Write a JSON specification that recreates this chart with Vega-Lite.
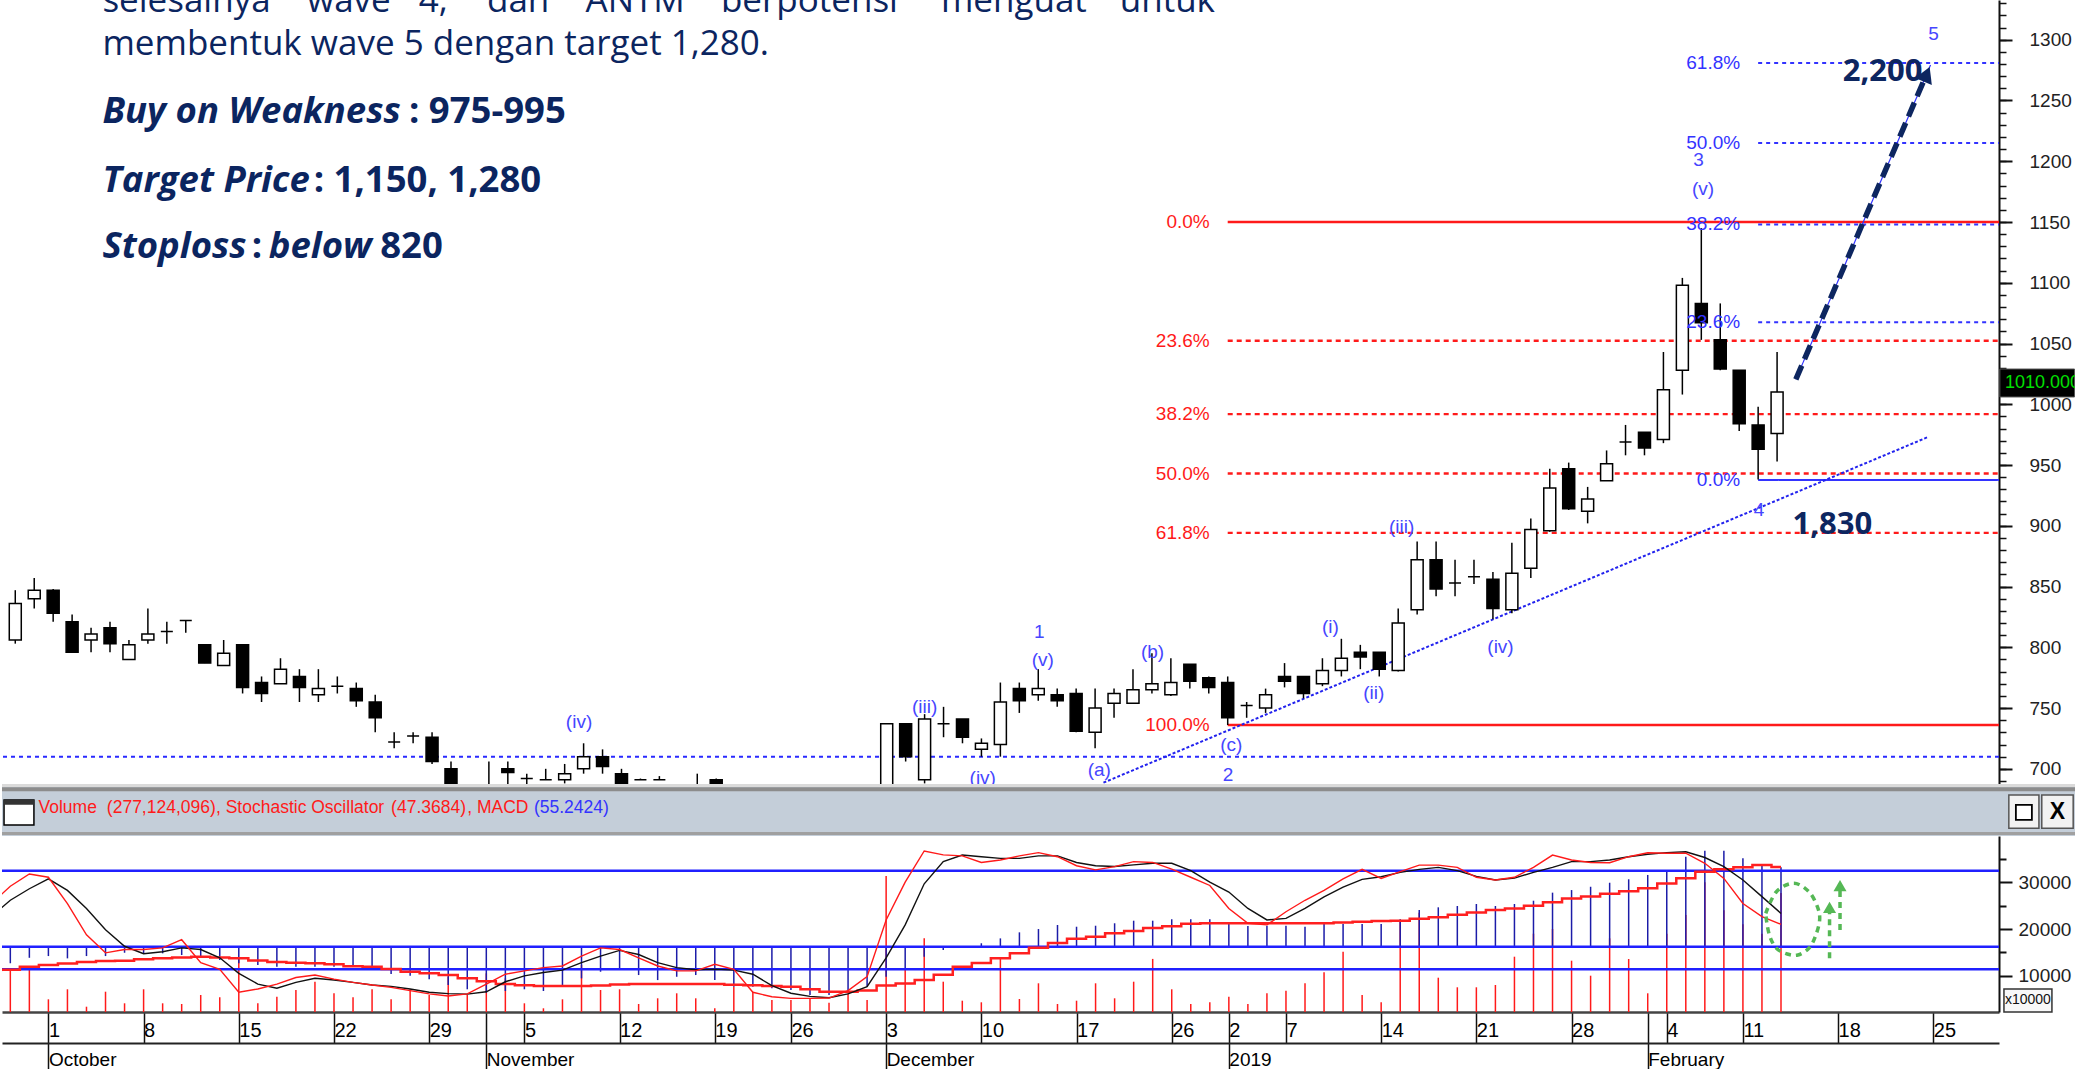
{
"$schema":"https://vega.github.io/schema/vega-lite/v6.json",
"padding":0,
"spacing":0,
"bounds":"flush",
"background":"#ffffff",
"config":{"view":{"stroke":null}},
"datasets":{
"candles":[
{"t":-2,"date":"2018-09-27","o":806,"h":847,"l":803,"c":836},
{"t":-1,"date":"2018-09-28","o":840,"h":857,"l":832,"c":847},
{"t":0,"date":"2018-10-01","o":847,"h":848,"l":821,"c":828},
{"t":1,"date":"2018-10-02","o":821,"h":827,"l":796,"c":796},
{"t":2,"date":"2018-10-03","o":806,"h":816,"l":796,"c":811},
{"t":3,"date":"2018-10-04","o":816,"h":821,"l":796,"c":803},
{"t":4,"date":"2018-10-05","o":790,"h":806,"l":790,"c":802},
{"t":5,"date":"2018-10-08","o":806,"h":832,"l":803,"c":811},
{"t":6,"date":"2018-10-09","o":813,"h":821,"l":803,"c":813},
{"t":7,"date":"2018-10-10","o":822,"h":822,"l":812,"c":822},
{"t":8,"date":"2018-10-11","o":802,"h":802,"l":787,"c":787},
{"t":9,"date":"2018-10-12","o":785,"h":806,"l":785,"c":795},
{"t":10,"date":"2018-10-15","o":802,"h":802,"l":762,"c":767},
{"t":11,"date":"2018-10-16","o":771,"h":776,"l":755,"c":762},
{"t":12,"date":"2018-10-17","o":770,"h":791,"l":770,"c":782},
{"t":13,"date":"2018-10-18","o":776,"h":782,"l":755,"c":767},
{"t":14,"date":"2018-10-19","o":761,"h":782,"l":755,"c":766},
{"t":15,"date":"2018-10-22","o":768,"h":776,"l":762,"c":768},
{"t":16,"date":"2018-10-23","o":766,"h":771,"l":751,"c":756},
{"t":17,"date":"2018-10-24","o":755,"h":761,"l":730,"c":742},
{"t":18,"date":"2018-10-25","o":722,"h":730,"l":717,"c":722},
{"t":19,"date":"2018-10-26","o":727,"h":730,"l":721,"c":727},
{"t":20,"date":"2018-10-29","o":726,"h":730,"l":704,"c":706},
{"t":21,"date":"2018-10-30","o":700,"h":706,"l":675,"c":680},
{"t":23,"date":"2018-11-01","o":680,"h":706,"l":672,"c":675},
{"t":24,"date":"2018-11-02","o":700,"h":706,"l":680,"c":697},
{"t":25,"date":"2018-11-05","o":692,"h":696,"l":685,"c":692},
{"t":26,"date":"2018-11-06","o":691,"h":700,"l":691,"c":691},
{"t":27,"date":"2018-11-07","o":691,"h":704,"l":688,"c":696},
{"t":28,"date":"2018-11-08","o":700,"h":721,"l":696,"c":710},
{"t":29,"date":"2018-11-09","o":710,"h":716,"l":696,"c":702},
{"t":30,"date":"2018-11-12","o":696,"h":700,"l":680,"c":684},
{"t":31,"date":"2018-11-13","o":691,"h":692,"l":691,"c":691},
{"t":32,"date":"2018-11-14","o":691,"h":694,"l":691,"c":691},
{"t":34,"date":"2018-11-16","o":680,"h":696,"l":672,"c":676},
{"t":35,"date":"2018-11-19","o":691,"h":692,"l":680,"c":684},
{"t":44,"date":"2018-12-03","o":680,"h":737,"l":675,"c":737},
{"t":45,"date":"2018-12-04","o":737,"h":737,"l":706,"c":710},
{"t":46,"date":"2018-12-05","o":691,"h":745,"l":688,"c":741},
{"t":47,"date":"2018-12-06","o":737,"h":751,"l":726,"c":737},
{"t":48,"date":"2018-12-07","o":741,"h":741,"l":721,"c":726},
{"t":49,"date":"2018-12-10","o":716,"h":725,"l":710,"c":721},
{"t":50,"date":"2018-12-11","o":720,"h":771,"l":710,"c":755},
{"t":51,"date":"2018-12-12","o":766,"h":771,"l":746,"c":756},
{"t":52,"date":"2018-12-13","o":761,"h":782,"l":756,"c":766},
{"t":53,"date":"2018-12-14","o":761,"h":766,"l":751,"c":756},
{"t":54,"date":"2018-12-17","o":762,"h":766,"l":730,"c":731},
{"t":55,"date":"2018-12-18","o":730,"h":766,"l":717,"c":750},
{"t":56,"date":"2018-12-19","o":754,"h":766,"l":742,"c":762},
{"t":57,"date":"2018-12-20","o":754,"h":782,"l":754,"c":765},
{"t":58,"date":"2018-12-21","o":765,"h":795,"l":762,"c":770},
{"t":59,"date":"2018-12-26","o":761,"h":791,"l":760,"c":771},
{"t":60,"date":"2018-12-27","o":786,"h":786,"l":766,"c":772},
{"t":61,"date":"2018-12-28","o":775,"h":776,"l":762,"c":767},
{"t":62,"date":"2019-01-02","o":771,"h":776,"l":736,"c":742},
{"t":63,"date":"2019-01-03","o":752,"h":755,"l":742,"c":752},
{"t":64,"date":"2019-01-04","o":750,"h":766,"l":746,"c":761},
{"t":65,"date":"2019-01-07","o":776,"h":787,"l":767,"c":772},
{"t":66,"date":"2019-01-08","o":776,"h":776,"l":758,"c":762},
{"t":67,"date":"2019-01-09","o":770,"h":791,"l":768,"c":781},
{"t":68,"date":"2019-01-10","o":781,"h":807,"l":776,"c":791},
{"t":69,"date":"2019-01-11","o":796,"h":802,"l":782,"c":792},
{"t":70,"date":"2019-01-14","o":796,"h":796,"l":776,"c":782},
{"t":71,"date":"2019-01-15","o":781,"h":832,"l":780,"c":820},
{"t":72,"date":"2019-01-16","o":831,"h":887,"l":827,"c":872},
{"t":73,"date":"2019-01-17","o":872,"h":887,"l":842,"c":848},
{"t":74,"date":"2019-01-18","o":853,"h":872,"l":842,"c":853},
{"t":75,"date":"2019-01-21","o":858,"h":872,"l":852,"c":858},
{"t":76,"date":"2019-01-22","o":856,"h":862,"l":823,"c":832},
{"t":77,"date":"2019-01-23","o":831,"h":886,"l":828,"c":861},
{"t":78,"date":"2019-01-24","o":865,"h":906,"l":857,"c":897},
{"t":79,"date":"2019-01-25","o":896,"h":947,"l":895,"c":931},
{"t":80,"date":"2019-01-28","o":947,"h":952,"l":913,"c":914},
{"t":81,"date":"2019-01-29","o":912,"h":932,"l":902,"c":922},
{"t":82,"date":"2019-01-30","o":937,"h":962,"l":937,"c":951},
{"t":83,"date":"2019-01-31","o":969,"h":983,"l":958,"c":969},
{"t":84,"date":"2019-02-01","o":977,"h":977,"l":958,"c":964},
{"t":85,"date":"2019-02-04","o":971,"h":1043,"l":968,"c":1012},
{"t":86,"date":"2019-02-06","o":1028,"h":1104,"l":1008,"c":1098},
{"t":87,"date":"2019-02-07","o":1083,"h":1145,"l":1053,"c":1067},
{"t":88,"date":"2019-02-08","o":1053,"h":1083,"l":1028,"c":1029},
{"t":89,"date":"2019-02-11","o":1028,"h":1028,"l":978,"c":984},
{"t":90,"date":"2019-02-12","o":983,"h":998,"l":938,"c":963},
{"t":91,"date":"2019-02-13","o":976,"h":1043,"l":953,"c":1010}
],
"ind":[
{"t":-3,"date":"2018-09-26","vol":null,"macd":-13,"sig":-17,"k":60,"d":52},
{"t":-2,"date":"2018-09-27","vol":112230000,"macd":-11.5,"sig":-16,"k":70.5,"d":62},
{"t":-1,"date":"2018-09-28","vol":119300000,"macd":-7.7,"sig":-14,"k":78,"d":69},
{"t":0,"date":"2018-10-01","vol":49500000,"macd":-6.5,"sig":-12.7,"k":76,"d":75},
{"t":1,"date":"2018-10-02","vol":70920000,"macd":-8.1,"sig":-11.7,"k":60,"d":68},
{"t":2,"date":"2018-10-03","vol":33660000,"macd":-6.5,"sig":-10.6,"k":41,"d":57},
{"t":3,"date":"2018-10-04","vol":65770000,"macd":-6.5,"sig":-10,"k":30,"d":44},
{"t":4,"date":"2018-10-05","vol":40940000,"macd":-4.2,"sig":-9.7,"k":32,"d":34},
{"t":5,"date":"2018-10-08","vol":70920000,"macd":-4.6,"sig":-8.8,"k":32,"d":29.5},
{"t":6,"date":"2018-10-09","vol":40940000,"macd":-4.6,"sig":-8,"k":33,"d":30.7},
{"t":7,"date":"2018-10-10","vol":39440000,"macd":-5.8,"sig":-7.5,"k":38,"d":33},
{"t":8,"date":"2018-10-11","vol":58710000,"macd":-7.7,"sig":-7,"k":24,"d":32},
{"t":9,"date":"2018-10-12","vol":53790000,"macd":-9.3,"sig":-7.5,"k":20,"d":27},
{"t":10,"date":"2018-10-15","vol":137280000,"macd":-11.5,"sig":-8.1,"k":6,"d":17.5},
{"t":11,"date":"2018-10-16","vol":40940000,"macd":-12.7,"sig":-9.5,"k":8,"d":11},
{"t":12,"date":"2018-10-17","vol":55070000,"macd":-13.9,"sig":-10.6,"k":11,"d":8.5},
{"t":13,"date":"2018-10-18","vol":69420000,"macd":-13.9,"sig":-11.2,"k":15,"d":12},
{"t":14,"date":"2018-10-19","vol":87180000,"macd":-13.9,"sig":-11.5,"k":16.5,"d":14.5},
{"t":15,"date":"2018-10-22","vol":62350000,"macd":-13.9,"sig":-12.2,"k":14,"d":13.5},
{"t":16,"date":"2018-10-23","vol":53790000,"macd":-13.9,"sig":-13.5,"k":12,"d":12},
{"t":17,"date":"2018-10-24","vol":70920000,"macd":-15,"sig":-14,"k":10.4,"d":10.4},
{"t":18,"date":"2018-10-25","vol":49500000,"macd":-19,"sig":-15.5,"k":9,"d":9.6},
{"t":19,"date":"2018-10-26","vol":70920000,"macd":-20.2,"sig":-17.4,"k":7,"d":8},
{"t":20,"date":"2018-10-29","vol":58710000,"macd":-22.7,"sig":-18.5,"k":5,"d":6},
{"t":21,"date":"2018-10-30","vol":97890000,"macd":-26.6,"sig":-19.7,"k":3.7,"d":5.2},
{"t":22,"date":"2018-10-31","vol":58710000,"macd":-29.6,"sig":-22,"k":5,"d":4.9},
{"t":23,"date":"2018-11-01","vol":105170000,"macd":-32,"sig":-24,"k":11,"d":6.3},
{"t":24,"date":"2018-11-02","vol":94460000,"macd":-30.8,"sig":-25.9,"k":17,"d":12.4},
{"t":25,"date":"2018-11-05","vol":40940000,"macd":-29.6,"sig":-26.8,"k":19,"d":16},
{"t":26,"date":"2018-11-06","vol":30240000,"macd":-30.8,"sig":-27.3,"k":21,"d":18},
{"t":27,"date":"2018-11-07","vol":49500000,"macd":-27.3,"sig":-27.3,"k":22,"d":19.5},
{"t":28,"date":"2018-11-08","vol":122940000,"macd":-22,"sig":-27.3,"k":28,"d":24},
{"t":29,"date":"2018-11-09","vol":69420000,"macd":-17.4,"sig":-27,"k":33,"d":28},
{"t":30,"date":"2018-11-12","vol":70920000,"macd":-16.2,"sig":-26.2,"k":32,"d":31.5},
{"t":31,"date":"2018-11-13","vol":39440000,"macd":-19.7,"sig":-25.9,"k":27,"d":29},
{"t":32,"date":"2018-11-14","vol":51640000,"macd":-23.2,"sig":-25.9,"k":22,"d":24},
{"t":33,"date":"2018-11-15","vol":62350000,"macd":-20.9,"sig":-25.9,"k":19,"d":21},
{"t":34,"date":"2018-11-16","vol":51640000,"macd":-19.7,"sig":-25.9,"k":19,"d":19.7},
{"t":35,"date":"2018-11-19","vol":30240000,"macd":-23.2,"sig":-26,"k":23,"d":20},
{"t":36,"date":"2018-11-21","vol":76480000,"macd":-27.8,"sig":-26.5,"k":20,"d":19.5},
{"t":37,"date":"2018-11-22","vol":65770000,"macd":-27.8,"sig":-26.8,"k":6,"d":17},
{"t":38,"date":"2018-11-23","vol":48000000,"macd":-28.9,"sig":-27.3,"k":3.3,"d":10},
{"t":39,"date":"2018-11-26","vol":48000000,"macd":-30.1,"sig":-27.8,"k":2.3,"d":5.4},
{"t":40,"date":"2018-11-27","vol":51640000,"macd":-33.6,"sig":-29.5,"k":2.3,"d":3.5},
{"t":41,"date":"2018-11-28","vol":42220000,"macd":-33.6,"sig":-31.3,"k":2.5,"d":2.7},
{"t":42,"date":"2018-11-29","vol":62350000,"macd":-32.4,"sig":-31.3,"k":7,"d":5},
{"t":43,"date":"2018-11-30","vol":48000000,"macd":-27.8,"sig":-30.5,"k":15.5,"d":9.4},
{"t":44,"date":"2018-12-03","vol":313490000,"macd":-20.9,"sig":-27,"k":50,"d":27},
{"t":45,"date":"2018-12-04","vol":112230000,"macd":-16.2,"sig":-25.5,"k":73,"d":47},
{"t":46,"date":"2018-12-05","vol":180100000,"macd":-7,"sig":-23.2,"k":92,"d":72},
{"t":47,"date":"2018-12-06","vol":87180000,"macd":-2.3,"sig":-19.5,"k":89.6,"d":85.5},
{"t":48,"date":"2018-12-07","vol":46500000,"macd":0.5,"sig":-14,"k":89,"d":89.5},
{"t":49,"date":"2018-12-10","vol":43080000,"macd":2.4,"sig":-11.3,"k":85,"d":88.5},
{"t":50,"date":"2018-12-11","vol":137280000,"macd":5.8,"sig":-8,"k":86.5,"d":87.5},
{"t":51,"date":"2018-12-12","vol":50150000,"macd":10,"sig":-4.5,"k":89,"d":87.5},
{"t":52,"date":"2018-12-13","vol":83760000,"macd":12.3,"sig":-0.8,"k":91,"d":89},
{"t":53,"date":"2018-12-14","vol":39440000,"macd":15.1,"sig":2.5,"k":88.5,"d":89},
{"t":54,"date":"2018-12-17","vol":46500000,"macd":13.9,"sig":5.5,"k":83,"d":85},
{"t":55,"date":"2018-12-18","vol":83760000,"macd":14.6,"sig":7,"k":80.5,"d":83},
{"t":56,"date":"2018-12-19","vol":51640000,"macd":16.3,"sig":9.3,"k":82.5,"d":82.5},
{"t":57,"date":"2018-12-20","vol":87180000,"macd":18.1,"sig":11,"k":85.5,"d":83.5},
{"t":58,"date":"2018-12-21","vol":136000000,"macd":18.1,"sig":13,"k":85,"d":84.5},
{"t":59,"date":"2018-12-26","vol":70920000,"macd":19.1,"sig":14.2,"k":81,"d":84.5},
{"t":60,"date":"2018-12-27","vol":39440000,"macd":19.1,"sig":16,"k":76,"d":80},
{"t":61,"date":"2018-12-28","vol":43080000,"macd":19.1,"sig":16.3,"k":71,"d":73},
{"t":62,"date":"2019-01-02","vol":55070000,"macd":15.8,"sig":16.3,"k":57,"d":67},
{"t":63,"date":"2019-01-03","vol":39440000,"macd":14.4,"sig":16.3,"k":48,"d":57},
{"t":64,"date":"2019-01-04","vol":62350000,"macd":14.6,"sig":16.3,"k":47,"d":50},
{"t":65,"date":"2019-01-07","vol":67920000,"macd":14.6,"sig":16.3,"k":55,"d":51},
{"t":66,"date":"2019-01-08","vol":83760000,"macd":13.9,"sig":16.3,"k":62,"d":57},
{"t":67,"date":"2019-01-09","vol":107310000,"macd":15.8,"sig":16.3,"k":68,"d":64},
{"t":68,"date":"2019-01-10","vol":151420000,"macd":15.8,"sig":16.8,"k":75,"d":70},
{"t":69,"date":"2019-01-11","vol":58710000,"macd":15.8,"sig":17.3,"k":80.8,"d":74.7},
{"t":70,"date":"2019-01-14","vol":43080000,"macd":15.8,"sig":17.8,"k":75.3,"d":76.3},
{"t":71,"date":"2019-01-15","vol":220000000,"macd":19.1,"sig":18,"k":79.4,"d":79},
{"t":72,"date":"2019-01-16","vol":235000000,"macd":25.5,"sig":19.5,"k":83.4,"d":80.8},
{"t":73,"date":"2019-01-17","vol":95750000,"macd":27.4,"sig":20.5,"k":83.4,"d":82},
{"t":74,"date":"2019-01-18","vol":75200000,"macd":28.3,"sig":22.2,"k":82,"d":80},
{"t":75,"date":"2019-01-21","vol":75200000,"macd":29.7,"sig":23.8,"k":76,"d":76.5},
{"t":76,"date":"2019-01-22","vol":80130000,"macd":28.3,"sig":25.5,"k":74.3,"d":74.3},
{"t":77,"date":"2019-01-23","vol":140710000,"macd":29.7,"sig":26.5,"k":76,"d":75.5},
{"t":78,"date":"2019-01-24","vol":190000000,"macd":32,"sig":28.5,"k":82,"d":79},
{"t":79,"date":"2019-01-25","vol":200000000,"macd":37.6,"sig":31,"k":89.5,"d":82},
{"t":80,"date":"2019-01-28","vol":132140000,"macd":39.4,"sig":33.5,"k":86.5,"d":85.5},
{"t":81,"date":"2019-01-29","vol":100030000,"macd":41.7,"sig":35,"k":85,"d":85.5},
{"t":82,"date":"2019-01-30","vol":180000000,"macd":44.5,"sig":36.8,"k":84.8,"d":86.5},
{"t":83,"date":"2019-01-31","vol":135780000,"macd":46.9,"sig":38.5,"k":88.5,"d":88.5},
{"t":84,"date":"2019-02-01","vol":62350000,"macd":49.9,"sig":40.6,"k":90.9,"d":90},
{"t":85,"date":"2019-02-04","vol":190000000,"macd":52.9,"sig":44,"k":90.6,"d":91},
{"t":86,"date":"2019-02-06","vol":230000000,"macd":62.6,"sig":47.6,"k":90.6,"d":91.5},
{"t":87,"date":"2019-02-07","vol":300000000,"macd":66.8,"sig":52.2,"k":84.5,"d":88},
{"t":88,"date":"2019-02-08","vol":240000000,"macd":66.8,"sig":53.8,"k":75.3,"d":82.4},
{"t":89,"date":"2019-02-11","vol":210000000,"macd":61.5,"sig":55.2,"k":60,"d":74.3},
{"t":90,"date":"2019-02-12","vol":190000000,"macd":56.8,"sig":56.8,"k":52,"d":64.2},
{"t":91,"date":"2019-02-13","vol":277124096,"macd":55.2424,"sig":55.5,"k":47.3684,"d":54}
],
"fib":[
{"kind":"rs","lbl":"0.0%","p":1150,"t0":62},
{"kind":"rd","lbl":"23.6%","p":1052.3,"t0":62},
{"kind":"rd","lbl":"38.2%","p":991.9,"t0":62},
{"kind":"rd","lbl":"50.0%","p":943,"t0":62},
{"kind":"rd","lbl":"61.8%","p":894.1,"t0":62},
{"kind":"rs","lbl":"100.0%","p":736,"t0":62},
{"kind":"bs","lbl":"0.0%","p":937.7,"t0":90},
{"kind":"bd","lbl":"23.6%","p":1067.5,"t0":90},
{"kind":"bd","lbl":"38.2%","p":1148,"t0":90},
{"kind":"bd","lbl":"50.0%","p":1215,"t0":90},
{"kind":"bd","lbl":"61.8%","p":1280.8,"t0":90}
],
"waves":[
{"t":27.76,"p":738.7,"s":"(iv)"},{"t":46.0,"p":751.1,"s":"(iii)"},{"t":49.07,"p":692.4,"s":"(iv)"},
{"t":52.05,"p":812.8,"s":"1"},{"t":52.24,"p":789.5,"s":"(v)"},{"t":55.22,"p":699,"s":"(a)"},
{"t":58.03,"p":796.3,"s":"(b)"},{"t":62.19,"p":719.6,"s":"(c)"},{"t":62.02,"p":694.9,"s":"2"},
{"t":67.42,"p":816.9,"s":"(i)"},{"t":69.71,"p":762.1,"s":"(ii)"},{"t":71.18,"p":899.2,"s":"(iii)"},
{"t":76.4,"p":800.5,"s":"(iv)"},{"t":86.85,"p":1201,"s":"3"},{"t":87.09,"p":1176.9,"s":"(v)"},
{"t":90.05,"p":913,"s":"4"},{"t":99.26,"p":1304.7,"s":"5"}
],
"notes":[
{"t":2.6,"p":1323.2,"s":"selesainya","sty":"r"},
{"t":13.4,"p":1323.2,"s":"wave","sty":"r"},
{"t":19.3,"p":1323.2,"s":"4,","sty":"r"},
{"t":22.9,"p":1323.2,"s":"dan","sty":"r"},
{"t":28.1,"p":1323.2,"s":"ANTM","sty":"r"},
{"t":35.25,"p":1323.2,"s":"berpotensi","sty":"r"},
{"t":46.86,"p":1323.2,"s":"menguat","sty":"r"},
{"t":56.3,"p":1323.2,"s":"untuk","sty":"r"},
{"t":2.6,"p":1287.4,"s":"membentuk wave 5 dengan target 1,280.","sty":"r"},
{"t":2.6,"p":1231.2,"s":"Buy on Weakness","sty":"bi"},
{"t":18.78,"p":1231.2,"s":": 975-995","sty":"b"},
{"t":2.6,"p":1174.9,"s":"Target Price","sty":"bi"},
{"t":13.75,"p":1174.9,"s":": 1,150, 1,280","sty":"b"},
{"t":2.6,"p":1120.1,"s":"Stoploss","sty":"bi"},
{"t":10.48,"p":1120.1,"s":":","sty":"b"},
{"t":11.38,"p":1120.1,"s":"below","sty":"bi"},
{"t":17.26,"p":1120.1,"s":"820","sty":"b"}
],
"hdr":[
{"t":-0.52,"s":"Volume","k":"k"},
{"t":3.07,"s":"(277,124,096)","k":"r"},
{"t":8.8,"s":", Stochastic Oscillator","k":"k"},
{"t":18.0,"s":"(47.3684)","k":"r"},
{"t":22.0,"s":", MACD","k":"k"},
{"t":25.5,"s":"(55.2424)","k":"b"}
],
"ring":[
{"n":0,"t":90.2,"vol":233600000},{"n":1,"t":90.76,"vol":279900000},{"n":2,"t":91.67,"vol":297900000},
{"n":3,"t":92.46,"vol":279900000},{"n":4,"t":92.91,"vol":247800000},{"n":5,"t":93.03,"vol":219300000},
{"n":6,"t":92.8,"vol":183500000},{"n":7,"t":92.46,"vol":158700000},{"n":8,"t":91.89,"vol":144400000},
{"n":9,"t":91.33,"vol":146500000},{"n":10,"t":90.76,"vol":158700000},{"n":11,"t":90.42,"vol":183500000},
{"n":12,"t":90.26,"vol":212200000},{"n":13,"t":90.2,"vol":233600000}
]
},
"vconcat":[
{
"width":1997,"height":784,
"resolve":{"axis":{"y":"independent"}},
"layer":[
{"data":{"values":[{}]},
 "mark":{"type":"rule","color":"#2a2aff","strokeWidth":2,"strokeDash":[4,4]},
 "encoding":{"y":{"datum":710,"type":"quantitative","scale":{"domain":[687.5,1332.7],"nice":false,"zero":false},
  "axis":{"orient":"right","values":[690,700,710,720,730,740,750,760,770,780,790,800,810,820,830,840,850,860,870,880,890,900,910,920,930,940,950,960,970,980,990,1000,1010,1020,1030,1040,1050,1060,1070,1080,1090,1100,1110,1120,1130,1140,1150,1160,1170,1180,1190,1200,1210,1220,1230,1240,1250,1260,1270,1280,1290,1300,1310,1320,1330],"tickSize":7,"tickWidth":1.5,"tickColor":"#111","domain":false,"labels":false,"grid":false,"title":null}}}},
{"data":{"name":"fib"},
 "mark":{"type":"rule","clip":true},
 "encoding":{
  "x":{"field":"t0","type":"quantitative","scale":{"domain":[-2.437,102.45],"nice":false,"zero":false},"axis":null},
  "x2":{"datum":103},
  "y":{"field":"p","type":"quantitative","scale":{"domain":[687.5,1332.7],"nice":false,"zero":false},
   "axis":{"orient":"right","values":[700,750,800,850,900,950,1000,1050,1100,1150,1200,1250,1300],"format":"d","tickSize":13,"tickWidth":2,"tickColor":"#111","domain":true,"domainColor":"#111","domainWidth":2,"labelFont":"Liberation Sans","labelFontSize":19,"labelColor":"#222","labelPadding":17,"grid":false,"title":null,"labelOverlap":false,"labelFlush":false,"labelBound":false}},
  "color":{"field":"kind","type":"nominal","scale":{"domain":["rs","rd","bs","bd"],"range":["#ff1a1a","#ff1a1a","#3333ff","#3333ff"]},"legend":null},
  "strokeDash":{"field":"kind","type":"nominal","scale":{"domain":["rs","rd","bs","bd"],"range":[[1,0],[5,4],[1,0],[4,4]]},"legend":null},
  "strokeWidth":{"field":"kind","type":"nominal","scale":{"domain":["rs","rd","bs","bd"],"range":[2.5,2,2.5,2]},"legend":null}
 }},
{"data":{"values":[{"t":55.44,"p":688.6},{"t":98.93,"p":972.8}]},
 "mark":{"type":"line","color":"#2222ee","strokeWidth":2,"strokeDash":[3,2],"clip":true},
 "encoding":{"x":{"field":"t","type":"quantitative","scale":{"domain":[-2.437,102.45],"nice":false,"zero":false},"axis":null},
  "y":{"field":"p","type":"quantitative","scale":{"domain":[687.5,1332.7],"nice":false,"zero":false},"axis":null}}},
{"data":{"values":[{"t":91.99,"p":1020.5},{"t":99.1,"p":1279.2}]},
 "mark":{"type":"line","color":"#3030ff","strokeWidth":1.2,"clip":true},
 "encoding":{"x":{"field":"t","type":"quantitative","scale":{"domain":[-2.437,102.45],"nice":false,"zero":false},"axis":null},
  "y":{"field":"p","type":"quantitative","scale":{"domain":[687.5,1332.7],"nice":false,"zero":false},"axis":null}}},
{"data":{"name":"candles"},
 "mark":{"type":"rule","color":"#000","strokeWidth":1.5,"clip":true},
 "encoding":{"x":{"field":"t","type":"quantitative","scale":{"domain":[-2.437,102.45],"nice":false,"zero":false},"axis":null},
  "y":{"field":"l","type":"quantitative","scale":{"domain":[687.5,1332.7],"nice":false,"zero":false},"axis":null},
  "y2":{"field":"h"}}},
{"data":{"name":"candles"},
 "mark":{"type":"bar","size":12,"stroke":"#000","strokeWidth":1.5,"clip":true,"orient":"vertical"},
 "encoding":{"x":{"field":"t","type":"quantitative","scale":{"domain":[-2.437,102.45],"nice":false,"zero":false},"axis":null},
  "y":{"field":"o","type":"quantitative","scale":{"domain":[687.5,1332.7],"nice":false,"zero":false},"axis":null},
  "y2":{"field":"c"},
  "fill":{"condition":{"test":"datum.c < datum.o","value":"#000"},"value":"#fff"}}},
{"data":{"name":"fib"},
 "mark":{"type":"text","font":"Liberation Sans","fontSize":19,"align":"right","baseline":"middle","dx":-18},
 "encoding":{"x":{"field":"t0","type":"quantitative","scale":{"domain":[-2.437,102.45],"nice":false,"zero":false},"axis":null},
  "y":{"field":"p","type":"quantitative","scale":{"domain":[687.5,1332.7],"nice":false,"zero":false},"axis":null},
  "text":{"field":"lbl"},
  "color":{"field":"kind","type":"nominal","scale":{"domain":["rs","rd","bs","bd"],"range":["#ff1a1a","#ff1a1a","#3333ff","#3333ff"]},"legend":null}}},
{"data":{"name":"waves"},
 "mark":{"type":"text","font":"Liberation Sans","fontSize":19,"color":"#4646ff","align":"center","baseline":"middle","clip":true},
 "encoding":{"x":{"field":"t","type":"quantitative","scale":{"domain":[-2.437,102.45],"nice":false,"zero":false},"axis":null},
  "y":{"field":"p","type":"quantitative","scale":{"domain":[687.5,1332.7],"nice":false,"zero":false},"axis":null},
  "text":{"field":"s"}}},
{"data":{"values":[{"t":96.57,"p":1273.7,"s":"2,200"},{"t":93.92,"p":900.6,"s":"1,830"}]},
 "mark":{"type":"text","font":"Open Sans","fontWeight":"bold","fontSize":31,"color":"#0d2660","align":"center","baseline":"middle"},
 "encoding":{"x":{"field":"t","type":"quantitative","scale":{"domain":[-2.437,102.45],"nice":false,"zero":false},"axis":null},
  "y":{"field":"p","type":"quantitative","scale":{"domain":[687.5,1332.7],"nice":false,"zero":false},"axis":null},
  "text":{"field":"s"}}},
{"data":{"values":[{"t":91.99,"p":1020.5},{"t":98.89,"p":1271.6}]},
 "mark":{"type":"line","color":"#0d2660","strokeWidth":5.5,"strokeDash":[15,7]},
 "encoding":{"x":{"field":"t","type":"quantitative","scale":{"domain":[-2.437,102.45],"nice":false,"zero":false},"axis":null},
  "y":{"field":"p","type":"quantitative","scale":{"domain":[687.5,1332.7],"nice":false,"zero":false},"axis":null}}},
{"data":{"values":[{"t":98.89,"p":1271.6}]},
 "mark":{"type":"point","shape":"triangle-up","filled":true,"color":"#0d2660","size":330,"angle":23,"opacity":1},
 "encoding":{"x":{"field":"t","type":"quantitative","scale":{"domain":[-2.437,102.45],"nice":false,"zero":false},"axis":null},
  "y":{"field":"p","type":"quantitative","scale":{"domain":[687.5,1332.7],"nice":false,"zero":false},"axis":null}}},
{"data":{"name":"notes"},"transform":[{"filter":"datum.sty == 'r'"}],
 "mark":{"type":"text","font":"Open Sans","fontSize":35,"color":"#0b2560","align":"left","baseline":"alphabetic","clip":true},
 "encoding":{"x":{"field":"t","type":"quantitative","scale":{"domain":[-2.437,102.45],"nice":false,"zero":false},"axis":null},
  "y":{"field":"p","type":"quantitative","scale":{"domain":[687.5,1332.7],"nice":false,"zero":false},"axis":null},
  "text":{"field":"s"}}},
{"data":{"name":"notes"},"transform":[{"filter":"datum.sty == 'bi'"}],
 "mark":{"type":"text","font":"Open Sans","fontWeight":"bold","fontStyle":"italic","fontSize":36.5,"color":"#0b2560","align":"left","baseline":"alphabetic"},
 "encoding":{"x":{"field":"t","type":"quantitative","scale":{"domain":[-2.437,102.45],"nice":false,"zero":false},"axis":null},
  "y":{"field":"p","type":"quantitative","scale":{"domain":[687.5,1332.7],"nice":false,"zero":false},"axis":null},
  "text":{"field":"s"}}},
{"data":{"name":"notes"},"transform":[{"filter":"datum.sty == 'b'"}],
 "mark":{"type":"text","font":"Open Sans","fontWeight":"bold","fontSize":36.5,"color":"#0b2560","align":"left","baseline":"alphabetic"},
 "encoding":{"x":{"field":"t","type":"quantitative","scale":{"domain":[-2.437,102.45],"nice":false,"zero":false},"axis":null},
  "y":{"field":"p","type":"quantitative","scale":{"domain":[687.5,1332.7],"nice":false,"zero":false},"axis":null},
  "text":{"field":"s"}}},
{"data":{"values":[{}]},
 "mark":{"type":"rect","fill":"#000","stroke":"#555","strokeWidth":1},
 "encoding":{"x":{"datum":102.76,"type":"quantitative","scale":{"domain":[-2.437,102.45],"nice":false,"zero":false},"axis":null},
  "x2":{"datum":106.7},
  "y":{"datum":1006,"type":"quantitative","scale":{"domain":[687.5,1332.7],"nice":false,"zero":false},"axis":null},
  "y2":{"datum":1029}}},
{"data":{"values":[{}]},
 "mark":{"type":"text","text":"1010.000","font":"Liberation Sans","fontSize":18,"color":"#00e000","align":"left","baseline":"middle"},
 "encoding":{"x":{"datum":103.03,"type":"quantitative","scale":{"domain":[-2.437,102.45],"nice":false,"zero":false},"axis":null},
  "y":{"datum":1017.5,"type":"quantitative","scale":{"domain":[687.5,1332.7],"nice":false,"zero":false},"axis":null}}}
]
},
{
"width":2075,"height":52,
"view":{"fill":"#c4ced9","stroke":null},
"layer":[
{"data":{"values":[{}]},"mark":{"type":"rule","color":"#dadada","strokeWidth":3},
 "encoding":{"y":{"datum":0.971,"type":"quantitative","scale":{"domain":[0,1],"nice":false,"zero":false},"axis":null}}},
{"data":{"values":[{}]},"mark":{"type":"rule","color":"#8c8c8c","strokeWidth":4},
 "encoding":{"y":{"datum":0.9,"type":"quantitative","scale":{"domain":[0,1],"nice":false,"zero":false},"axis":null}}},
{"data":{"values":[{}]},"mark":{"type":"rule","color":"#a0a0a0","strokeWidth":3},
 "encoding":{"y":{"datum":0.05,"type":"quantitative","scale":{"domain":[0,1],"nice":false,"zero":false},"axis":null}}},
{"data":{"values":[{}]},"mark":{"type":"rect","fill":"#ffffff","stroke":"#000","strokeWidth":1.5},
 "encoding":{"x":{"datum":-2.33,"type":"quantitative","scale":{"domain":[-2.437,106.55],"nice":false,"zero":false},"axis":null},"x2":{"datum":-0.76},
  "y":{"datum":0.21,"type":"quantitative","scale":{"domain":[0,1],"nice":false,"zero":false},"axis":null},"y2":{"datum":0.69}}},
{"data":{"values":[{}]},"mark":{"type":"rect","fill":"#333"},
 "encoding":{"x":{"datum":-2.33,"type":"quantitative","scale":{"domain":[-2.437,106.55],"nice":false,"zero":false},"axis":null},"x2":{"datum":-0.76},
  "y":{"datum":0.6,"type":"quantitative","scale":{"domain":[0,1],"nice":false,"zero":false},"axis":null},"y2":{"datum":0.69}}},
{"data":{"name":"hdr"},
 "mark":{"type":"text","font":"Liberation Sans","fontSize":17.5,"align":"left","baseline":"middle"},
 "encoding":{"x":{"field":"t","type":"quantitative","scale":{"domain":[-2.437,106.55],"nice":false,"zero":false},"axis":null},
  "y":{"datum":0.54,"type":"quantitative","scale":{"domain":[0,1],"nice":false,"zero":false},"axis":null},
  "text":{"field":"s"},
  "color":{"field":"k","type":"nominal","scale":{"domain":["k","r","b"],"range":["#000000","#ee0000","#2a2aa8"]},"legend":null}}},
{"data":{"values":[{}]},"mark":{"type":"rect","fill":"#f2f2f2","stroke":"#555","strokeWidth":1.5},
 "encoding":{"x":{"datum":102.97,"type":"quantitative","scale":{"domain":[-2.437,106.55],"nice":false,"zero":false},"axis":null},"x2":{"datum":104.55},
  "y":{"datum":0.15,"type":"quantitative","scale":{"domain":[0,1],"nice":false,"zero":false},"axis":null},"y2":{"datum":0.79}}},
{"data":{"values":[{}]},"mark":{"type":"rect","fill":"#f2f2f2","stroke":"#555","strokeWidth":1.5},
 "encoding":{"x":{"datum":104.7,"type":"quantitative","scale":{"domain":[-2.437,106.55],"nice":false,"zero":false},"axis":null},"x2":{"datum":106.35},
  "y":{"datum":0.15,"type":"quantitative","scale":{"domain":[0,1],"nice":false,"zero":false},"axis":null},"y2":{"datum":0.79}}},
{"data":{"values":[{}]},"mark":{"type":"rect","fill":"#ffffff","stroke":"#000","strokeWidth":1.8},
 "encoding":{"x":{"datum":103.34,"type":"quantitative","scale":{"domain":[-2.437,106.55],"nice":false,"zero":false},"axis":null},"x2":{"datum":104.18},
  "y":{"datum":0.31,"type":"quantitative","scale":{"domain":[0,1],"nice":false,"zero":false},"axis":null},"y2":{"datum":0.6}}},
{"data":{"values":[{}]},"mark":{"type":"text","text":"X","font":"Liberation Sans","fontWeight":"bold","fontSize":23,"color":"#000","align":"center","baseline":"middle"},
 "encoding":{"x":{"datum":105.52,"type":"quantitative","scale":{"domain":[-2.437,106.55],"nice":false,"zero":false},"axis":null},
  "y":{"datum":0.46,"type":"quantitative","scale":{"domain":[0,1],"nice":false,"zero":false},"axis":null}}}
]
},
{
"width":1997,"height":176,
"resolve":{"scale":{"y":"independent"},"axis":{"x":"independent","y":"independent"}},
"layer":[
{"data":{"name":"ind"},
 "mark":{"type":"rule","color":"#ff1a1a","strokeWidth":1.5,"clip":true},
 "encoding":{
  "x":{"field":"t","type":"quantitative","scale":{"domain":[-2.437,102.45],"nice":false,"zero":false},
   "axis":{"orient":"bottom","values":[0,5,10,15,20,23,25,30,35,39,44,49,54,59,62,65,70,75,80,84,85,89,94,99],
    "labelExpr":"['1','8','15','22','29','','5','12','19','26','3','10','17','26','2','7','14','21','28','','4','11','18','25'][indexof([0,5,10,15,20,23,25,30,35,39,44,49,54,59,62,65,70,75,80,84,85,89,94,99], datum.value)]",
    "tickSize":31,"tickWidth":1.5,"tickColor":"#111","domain":true,"domainColor":"#444","domainWidth":2.5,
    "labelAlign":"left","labelBaseline":"top","labelPadding":-23,"labelDx":3,
    "labelFont":"Liberation Sans","labelFontSize":20,"labelColor":"#000",
    "labelOverlap":false,"labelBound":false,"labelFlush":false,"grid":false,"title":null}},
  "y":{"field":"vol","type":"quantitative","scale":{"domain":[22310000,399130000],"nice":false,"zero":false},
   "axis":{"orient":"right","values":[100000000,200000000,300000000],"labelExpr":"format(datum.value/10000,'d')","tickSize":13,"tickWidth":2,"tickColor":"#111","domain":true,"domainColor":"#111","domainWidth":2,"labelFont":"Liberation Sans","labelFontSize":19,"labelColor":"#222","labelPadding":6,"grid":false,"title":null}},
  "y2":{"datum":0}
 }},
{"data":{"name":"ind"},
 "mark":{"type":"rule","color":"#1c1ca8","strokeWidth":1.5,"clip":true},
 "encoding":{
  "x":{"field":"t","type":"quantitative","scale":{"domain":[-2.437,102.45],"nice":false,"zero":false},
   "axis":{"orient":"bottom","offset":31,"values":[0,23,44,62,84],
    "labelExpr":"['October','November','December','2019','February'][indexof([0,23,44,62,84], datum.value)]",
    "tickSize":26,"tickWidth":1.5,"tickColor":"#111","domain":true,"domainColor":"#222","domainWidth":2,
    "labelAlign":"left","labelBaseline":"top","labelPadding":-19,"labelDx":3,
    "labelFont":"Liberation Sans","labelFontSize":19,"labelColor":"#000",
    "labelOverlap":false,"labelBound":false,"labelFlush":false,"grid":false,"title":null}},
  "y":{"field":"macd","type":"quantitative","scale":{"domain":[-45.4,77.0],"nice":false,"zero":false},"axis":null},
  "y2":{"datum":0}
 }},
{"data":{"values":[{"lv":80},{"lv":20}]},
 "mark":{"type":"rule","color":"#2020ff","strokeWidth":2.5},
 "encoding":{"y":{"field":"lv","type":"quantitative","scale":{"domain":[-6.0,101.1],"nice":false,"zero":false},"axis":null}}},
{"data":{"values":[{"lv":0}]},
 "mark":{"type":"rule","color":"#2020ff","strokeWidth":2.5},
 "encoding":{"y":{"field":"lv","type":"quantitative","scale":{"domain":[-45.4,77.0],"nice":false,"zero":false},"axis":null}}},
{"data":{"name":"ind"},
 "mark":{"type":"line","color":"#ff2020","strokeWidth":2.5,"interpolate":"step","clip":true},
 "encoding":{"x":{"field":"t","type":"quantitative","scale":{"domain":[-2.437,102.45],"nice":false,"zero":false},"axis":null},
  "y":{"field":"sig","type":"quantitative","scale":{"domain":[-45.4,77.0],"nice":false,"zero":false},"axis":null}}},
{"data":{"name":"ind"},
 "mark":{"type":"line","color":"#111111","strokeWidth":1.4,"clip":true},
 "encoding":{"x":{"field":"t","type":"quantitative","scale":{"domain":[-2.437,102.45],"nice":false,"zero":false},"axis":null},
  "y":{"field":"d","type":"quantitative","scale":{"domain":[-6.0,101.1],"nice":false,"zero":false},"axis":null}}},
{"data":{"name":"ind"},
 "mark":{"type":"line","color":"#ff1a1a","strokeWidth":1.4,"clip":true},
 "encoding":{"x":{"field":"t","type":"quantitative","scale":{"domain":[-2.437,102.45],"nice":false,"zero":false},"axis":null},
  "y":{"field":"k","type":"quantitative","scale":{"domain":[-6.0,101.1],"nice":false,"zero":false},"axis":null}}},
{"data":{"name":"ring"},
 "mark":{"type":"line","color":"#55b855","strokeWidth":3.5,"strokeDash":[6,5],"interpolate":"cardinal"},
 "encoding":{"x":{"field":"t","type":"quantitative","scale":{"domain":[-2.437,102.45],"nice":false,"zero":false},"axis":null},
  "y":{"field":"vol","type":"quantitative","scale":{"domain":[22310000,399130000],"nice":false,"zero":false},
   "axis":{"orient":"right","values":[150000000,250000000,350000000],"tickSize":7,"tickWidth":2,"tickColor":"#111","domain":false,"labels":false,"grid":false,"title":null}},
  "order":{"field":"n","type":"quantitative"}}},
{"data":{"values":[{"t":93.55,"a":137300000,"b":237100000},{"t":94.1,"a":197900000,"b":283500000}]},
 "mark":{"type":"rule","color":"#55b855","strokeWidth":3.5,"strokeDash":[6,5]},
 "encoding":{"x":{"field":"t","type":"quantitative","scale":{"domain":[-2.437,102.45],"nice":false,"zero":false},"axis":null},
  "y":{"field":"a","type":"quantitative","scale":{"domain":[22310000,399130000],"nice":false,"zero":false},"axis":null},
  "y2":{"field":"b"}}},
{"data":{"values":[{"t":93.55,"v":246500000},{"t":94.1,"v":292700000}]},
 "mark":{"type":"point","shape":"triangle-up","filled":true,"color":"#55b855","size":170,"opacity":1},
 "encoding":{"x":{"field":"t","type":"quantitative","scale":{"domain":[-2.437,102.45],"nice":false,"zero":false},"axis":null},
  "y":{"field":"v","type":"quantitative","scale":{"domain":[22310000,399130000],"nice":false,"zero":false},"axis":null}}},
{"data":{"values":[{}]},
 "mark":{"type":"rect","fill":"#f8f8f8","stroke":"#333","strokeWidth":1.5},
 "encoding":{"x":{"datum":102.71,"type":"quantitative","scale":{"domain":[-2.437,102.45],"nice":false,"zero":false},"axis":null},"x2":{"datum":105.23},
  "y":{"datum":22310000,"type":"quantitative","scale":{"domain":[22310000,399130000],"nice":false,"zero":false},"axis":null},"y2":{"datum":71560000}}},
{"data":{"values":[{}]},
 "mark":{"type":"text","text":"x10000","font":"Liberation Sans","fontSize":14,"color":"#111","align":"center","baseline":"middle"},
 "encoding":{"x":{"datum":103.97,"type":"quantitative","scale":{"domain":[-2.437,102.45],"nice":false,"zero":false},"axis":null},
  "y":{"datum":46940000,"type":"quantitative","scale":{"domain":[22310000,399130000],"nice":false,"zero":false},"axis":null}}}
]
}
]
}
